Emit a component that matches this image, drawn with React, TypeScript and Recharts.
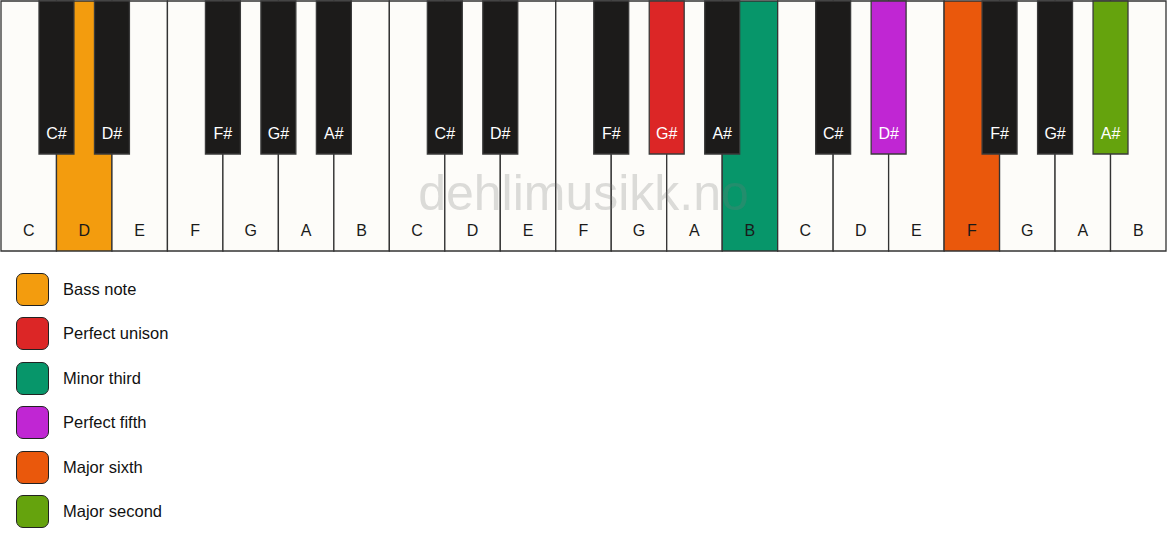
import React from 'react'
import { ComposedChart, XAxis, YAxis, ReferenceArea } from 'recharts'

// keyboard: three octaves, C to B
const octaves = [0, 1, 2]
const whiteNames = ['C', 'D', 'E', 'F', 'G', 'A', 'B']
const blackNames = ['C#', 'D#', 'F#', 'G#', 'A#']
// white-key boundary each black key sits on, within one octave
const blackSlots = [1, 2, 4, 5, 6]

const intervals = ['Bass note', 'Perfect unison', 'Minor third', 'Perfect fifth', 'Major sixth', 'Major second']
const intervalColors = ['#F39C0E', '#DC2626', '#07966A', '#C026D3', '#EA580C', '#65A30D']
// key per interval, as note + octave index
const intervalKeys = ['D0', 'G#1', 'B1', 'D#2', 'F2', 'A#2']

const keyTop = 0
const whiteBottom = 250
const blackBottom = 153
const blackWidth = 0.63

const colorOf = (id: string) => {
  const i = intervalKeys.indexOf(id)
  return i >= 0 ? intervalColors[i] : null
}

const whiteKeys = octaves.flatMap((o) =>
  whiteNames.map((name, i) => ({ id: name + o, name, x: o * 7 + i }))
)
const blackKeys = octaves.flatMap((o) =>
  blackNames.map((name, i) => ({ id: name + o, name, x: o * 7 + blackSlots[i] }))
)

const font = '"Liberation Sans", Arial, sans-serif'

export default function App() {
  return (
    <div style={{ position: 'absolute', left: 0, top: 0, width: 1167, height: 550, background: '#fff', fontFamily: font }}>
      <ComposedChart width={1167} height={252} data={whiteKeys} margin={{ top: 1, right: 1, bottom: 1, left: 1 }}>
        <XAxis type="number" dataKey="x" domain={[0, 21]} hide allowDataOverflow />
        <YAxis type="number" domain={[0, 250]} reversed hide allowDataOverflow />
        {whiteKeys.map((k) => (
          <ReferenceArea
            key={k.id}
            x1={k.x}
            x2={k.x + 1}
            y1={keyTop}
            y2={whiteBottom}
            fill={colorOf(k.id) ?? '#FDFCF9'}
            fillOpacity={1}
            stroke="#333"
            strokeWidth={1.3}
            label={{ value: k.name, position: 'insideBottom', offset: 15, fill: '#1a1a1a', fontSize: 16, fontFamily: font }}
          />
        ))}
        {blackKeys.map((k) => (
          <ReferenceArea
            key={k.id}
            x1={k.x - blackWidth / 2}
            x2={k.x + blackWidth / 2}
            y1={keyTop}
            y2={blackBottom}
            fill={colorOf(k.id) ?? '#1C1B1A'}
            fillOpacity={1}
            stroke="#3a3a3a"
            strokeWidth={1.3}
            label={{ value: k.name, position: 'insideBottom', offset: 15, fill: '#fff', fontSize: 16, fontFamily: font }}
          />
        ))}
      </ComposedChart>
      <div
        style={{
          position: 'absolute',
          left: 0,
          width: 1167,
          top: 165,
          textAlign: 'center',
          fontSize: 50,
          lineHeight: '56px',
          color: 'rgba(120,120,120,0.25)',
          pointerEvents: 'none',
        }}
      >
        dehlimusikk.no
      </div>
      <div style={{ position: 'absolute', left: 16, top: 272 }}>
        {intervals.map((name, i) => (
          <div key={name} style={{ display: 'flex', alignItems: 'center', height: 34, marginBottom: 10.5 }}>
            <div
              style={{
                width: 31,
                height: 31,
                background: intervalColors[i],
                border: '1.5px solid #222',
                borderRadius: 7,
              }}
            />
            <span style={{ marginLeft: 14, fontSize: 16.5, color: '#111' }}>{name}</span>
          </div>
        ))}
      </div>
    </div>
  )
}
